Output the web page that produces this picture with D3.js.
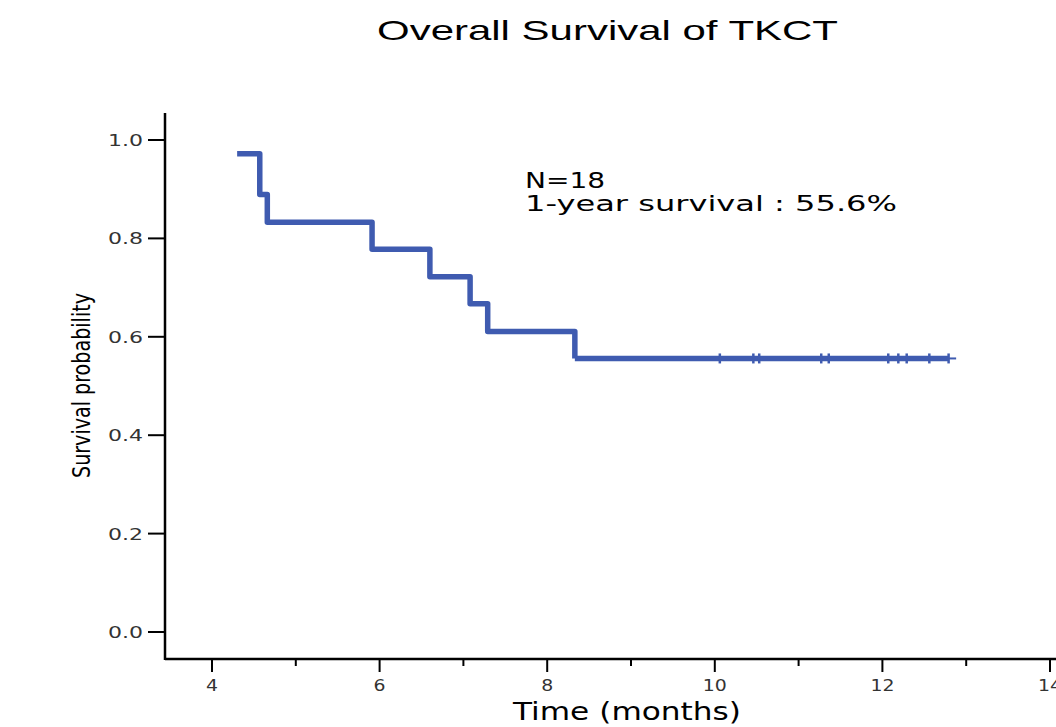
<!DOCTYPE html>
<html>
<head>
<meta charset="utf-8">
<script src="https://cdn.jsdelivr.net/npm/d3@7"></script>
<style>
body { margin: 0; background: #fff; }
text { font-family: "DejaVu Sans", sans-serif; }
</style>
</head>
<body>
<div id="chart"></div>
<script>
var outerW = 1056,
	outerH = 727;

// KM step data: event times and survival level after each event
var startTime = 4.3;
var startSurv = 0.972;
var eventTimes = [4.57, 4.66, 5.91, 6.60, 7.08, 7.29, 8.33];
var eventSurv = [0.889, 0.833, 0.778, 0.722, 0.667, 0.611, 0.556];
var endTime = 12.88;
var censorTimes = [10.06, 10.46, 10.53, 11.27, 11.36, 12.07, 12.19, 12.29, 12.56, 12.79];

var xTicks = [4, 6, 8, 10, 12, 14];
var xMinor = [5, 7, 9, 11, 13];
var yTicks = [0.0, 0.2, 0.4, 0.6, 0.8, 1.0];

var svg = d3.select("#chart")
	.append("svg")
	.attr("width", outerW)
	.attr("height", outerH);

var x = d3.scaleLinear().domain([4, 14]).range([212, 1050]);
var y = d3.scaleLinear().domain([0, 1]).range([632, 140]);

var axisX = 165, axisY = 659;

// axes lines
svg.append("line")
	.attr("x1", axisX).attr("x2", axisX)
	.attr("y1", 113).attr("y2", axisY + 1)
	.attr("stroke", "#000").attr("stroke-width", 2.5);
svg.append("line")
	.attr("x1", axisX).attr("x2", outerW)
	.attr("y1", axisY).attr("y2", axisY)
	.attr("stroke", "#000").attr("stroke-width", 2.5);

// y ticks
yTicks.forEach(function(v) {
	svg.append("line")
		.attr("x1", axisX - 17).attr("x2", axisX)
		.attr("y1", y(v)).attr("y2", y(v))
		.attr("stroke", "#000").attr("stroke-width", 2);
	svg.append("text")
		.attr("x", 143).attr("y", y(v) + 6)
		.attr("text-anchor", "end")
		.attr("fill", "#333")
		.style("font-size", "16px")
		.attr("textLength", 35)
		.attr("lengthAdjust", "spacingAndGlyphs")
		.text(v.toFixed(1));
});

// x ticks
xTicks.forEach(function(v) {
	svg.append("line")
		.attr("x1", x(v)).attr("x2", x(v))
		.attr("y1", axisY).attr("y2", axisY + 13)
		.attr("stroke", "#000").attr("stroke-width", 2);
	svg.append("text")
		.attr("x", x(v)).attr("y", 691)
		.attr("text-anchor", "middle")
		.attr("fill", "#333")
		.style("font-size", "16px")
		.attr("textLength", String(v).length * 12)
		.attr("lengthAdjust", "spacingAndGlyphs")
		.text(v);
});
xMinor.forEach(function(v) {
	svg.append("line")
		.attr("x1", x(v)).attr("x2", x(v))
		.attr("y1", axisY).attr("y2", axisY + 7)
		.attr("stroke", "#000").attr("stroke-width", 2);
});

// survival curve
var pts = [[startTime, startSurv]];
var prev = startSurv;
eventTimes.forEach(function(t, i) {
	pts.push([t, prev]);
	pts.push([t, eventSurv[i]]);
	prev = eventSurv[i];
});
var lineGen = d3.line().x(function(d) { return x(d[0]); }).y(function(d) { return y(d[1]); });

svg.append("path")
	.attr("d", lineGen(pts))
	.attr("fill", "none")
	.attr("stroke", "#3F5BB0")
	.attr("stroke-width", 5.5)
	.attr("stroke-linejoin", "round");

// flat tail after last event
var lastT = eventTimes[eventTimes.length - 1];
svg.append("path")
	.attr("d", lineGen([[lastT, prev], [censorTimes[censorTimes.length - 1], prev]]))
	.attr("fill", "none")
	.attr("stroke", "#3F5BB0")
	.attr("stroke-width", 5.5);
svg.append("path")
	.attr("d", lineGen([[censorTimes[censorTimes.length - 1], prev], [endTime, prev]]))
	.attr("fill", "none")
	.attr("stroke", "#3F5BB0")
	.attr("stroke-width", 2);

// censor marks
censorTimes.forEach(function(t) {
	svg.append("line")
		.attr("x1", x(t)).attr("x2", x(t))
		.attr("y1", y(prev) - 5).attr("y2", y(prev) + 5)
		.attr("stroke", "#3F5BB0").attr("stroke-width", 2.5);
});

// annotation
svg.append("text")
	.attr("x", 525).attr("y", 188)
	.style("font-size", "22px")
	.attr("textLength", 80)
	.attr("lengthAdjust", "spacingAndGlyphs")
	.text("N=18");
svg.append("text")
	.attr("x", 525).attr("y", 211)
	.style("font-size", "22px")
	.attr("textLength", 372)
	.attr("lengthAdjust", "spacingAndGlyphs")
	.text("1-year survival : 55.6%");

// title
svg.append("text")
	.attr("x", 377).attr("y", 40)
	.style("font-family", "'Liberation Sans', Arial, sans-serif")
	.style("font-size", "28px")
	.attr("textLength", 461)
	.attr("lengthAdjust", "spacingAndGlyphs")
	.text("Overall Survival of TKCT");

// axis labels
svg.append("text")
	.attr("x", 513).attr("y", 720)
	.style("font-size", "24px")
	.attr("textLength", 228)
	.attr("lengthAdjust", "spacingAndGlyphs")
	.text("Time (months)");

svg.append("text")
	.attr("transform", "translate(90,478) rotate(-90)")
	.style("font-family", "'Liberation Sans Narrow', 'DejaVu Sans Condensed', sans-serif")
	.style("font-size", "24px")
	.attr("textLength", 185)
	.attr("lengthAdjust", "spacingAndGlyphs")
	.text("Survival probability");
</script>
</body>
</html>
